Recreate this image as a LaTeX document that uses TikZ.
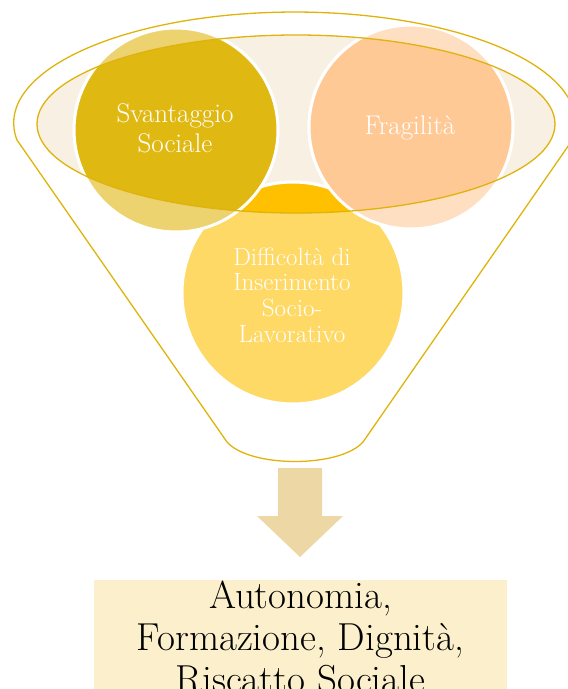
\documentclass[tikz,border=0pt]{standalone}
\usepackage{fontspec}
\setmainfont{Latin Modern Roman}
\definecolor{bordure}{HTML}{DFB30C}
\definecolor{fondellipse}{HTML}{F8F0E3}
\definecolor{svantclair}{HTML}{ECD370}
\definecolor{svantfonce}{HTML}{E0B812}
\definecolor{fragclair}{HTML}{FFDFC2}
\definecolor{fragfonce}{HTML}{FFC996}
\definecolor{diffclair}{HTML}{FED966}
\definecolor{difffonce}{HTML}{FFC000}
\definecolor{beigefleche}{HTML}{EDD7A5}
\definecolor{fondboite}{HTML}{FCF0CC}
\begin{document}
\begin{tikzpicture}[x=1pt,y=-1pt]
% Styles
\tikzstyle{contour}=[draw=bordure,line width=1.3pt]
\tikzstyle{cercle}=[circle,draw=white,line width=3pt,inner sep=0pt]
\tikzstyle{texte}=[text=white,align=center,inner sep=0pt]
\tikzstyle{fleche}=[fill=beigefleche]
% Dimensions de l'ellipse
\def\Ex{296}
\def\Ey{124}
\def\Erx{259}
\def\Ery{89}
% Cadre
\clip (0,0) rectangle (568,689);
% Fond de l'ellipse
\fill[fondellipse] (\Ex,\Ey) ellipse [x radius=\Erx,y radius=\Ery];
% Cercles
\node[cercle,fill=diffclair,minimum size=222pt] (diff) at (293,293) {};
\node[cercle,fill=svantclair,minimum size=204pt] (svant) at (176,130) {};
\node[cercle,fill=fragclair,minimum size=204pt] (frag) at (411,127) {};
% Parties dans l'ellipse
\begin{scope}
\clip (\Ex,\Ey) ellipse [x radius=\Erx,y radius=\Ery];
\node[cercle,fill=difffonce,minimum size=222pt] at (diff) {};
\node[cercle,fill=svantfonce,minimum size=204pt] at (svant) {};
\node[cercle,fill=fragfonce,minimum size=204pt] at (frag) {};
\end{scope}
% Textes
\node[texte,font=\fontsize{27}{30}\selectfont] (tsvant) at (175,128) {Svantaggio\\Sociale};
\node[texte,font=\fontsize{27}{30}\selectfont] (tfrag) at (410,128) {Fragilità};
\node[texte,font=\fontsize{25}{25.7}\selectfont] (tdiff) at (292,295) {Difficoltà di\\Inserimento\\Socio-\\Lavorativo};
% Entonnoir
\draw[contour] (\Ex,\Ey) ellipse [x radius=\Erx,y radius=\Ery];
\draw[contour] (17,140) arc[start angle=171.2,end angle=368.8,x radius=281,y radius=111]
  -- (363,442) .. controls (340,468) and (250,468) .. (227,442) -- cycle;
% Flèche
\fill[fleche] (278,468) -- (322,468) -- (322,516) -- (343,516) -- (300,557)
  -- (257,516) -- (278,516) -- cycle;
% Boîte du résultat
\fill[fondboite] (94,580) rectangle (507,720);
\node[align=center,inner sep=0pt,anchor=north,font=\fontsize{39}{42}\selectfont] (result) at (300.5,580.5)
  {Autonomia,\\Formazione, Dignità,\\Riscatto Sociale};
\end{tikzpicture}
\end{document}
